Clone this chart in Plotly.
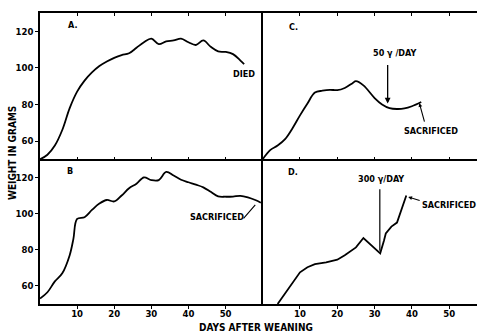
import plotly.graph_objects as go

# ---- data ----
a_days = [0, 2, 4, 6, 8, 10, 12, 14, 16, 18, 20, 22, 24, 26, 28, 30, 32, 34, 36, 38, 40, 42, 44, 46, 48, 50, 52, 54, 55]
a_wt = [50, 52.5, 57.5, 66, 78, 87, 93, 97.5, 101, 103.5, 105.5, 107, 108, 111, 114, 116, 113, 114.5, 115, 116, 114, 112.5, 115, 111.5, 109, 108.7, 107.5, 104, 102]

b_days = [0, 2, 4, 6, 8, 9, 10, 12, 14, 16, 18, 20, 22, 24, 26, 28, 30, 32, 34, 36, 38, 40, 42, 44, 46, 48, 50, 52, 54, 56, 58, 59.5]
b_wt = [53, 56.5, 62.5, 67, 77, 86, 97, 98, 102, 105.5, 107.5, 106.7, 110, 114, 116.5, 120, 118.5, 118.5, 123, 121, 118.7, 117.3, 116, 114.5, 112, 109.5, 109.3, 109.4, 109.8, 109, 107.5, 106]

c_days = [0, 2, 4, 6, 8, 10, 12, 14, 16, 18, 20, 22, 24, 25, 27, 30, 32, 34, 36, 38, 40, 42.5]
c_wt = [50, 55, 57.5, 61, 67, 74, 80.5, 86.5, 87.5, 88, 87.8, 89, 91.5, 92.7, 90.4, 83.5, 80, 78, 77.5, 77.8, 79, 81.3]

d_days = [4, 7, 10, 12, 14, 17, 20, 22, 25, 27, 29, 31.5, 32.5, 33, 34.5, 36, 38.5]
d_wt = [50, 59, 67.5, 70.3, 72, 73, 74.5, 77, 81.3, 86.5, 82.5, 78, 85, 89, 92.8, 95, 110]

x_ticks = [10, 20, 30, 40, 50]
y_ticks = [60, 80, 100, 120]
panel_labels = ["A.", "B", "C.", "D."]

FONT = "Liberation Sans Narrow, Arial Narrow, DejaVu Sans Condensed, Liberation Sans, sans-serif"
LINE = dict(color="black", width=1.8)

fig = go.Figure()
fig.add_trace(go.Scatter(x=a_days, y=a_wt, mode="lines", line=LINE, line_shape="spline", xaxis="x", yaxis="y"))
fig.add_trace(go.Scatter(x=c_days, y=c_wt, mode="lines", line=LINE, line_shape="spline", xaxis="x2", yaxis="y2"))
fig.add_trace(go.Scatter(x=b_days, y=b_wt, mode="lines", line=LINE, line_shape="spline", xaxis="x3", yaxis="y3"))
fig.add_trace(go.Scatter(x=d_days, y=d_wt, mode="lines", line=LINE, xaxis="x4", yaxis="y4"))

XL = 0.5096
YM = 0.4973
tickfont = dict(family=FONT, size=9.5, color="black", weight="bold")

top_x = dict(range=[0, 60], showline=True, linecolor="black", linewidth=1.5, mirror="ticks",
             ticks="inside", ticklen=3, tickcolor="black", tickvals=x_ticks, showticklabels=False,
             showgrid=False, zeroline=False)
bot_x = dict(range=[0, 60], showline=True, linecolor="black", linewidth=1.5,
             ticks="outside", ticklen=3, tickcolor="black", tickvals=x_ticks, tickfont=tickfont,
             ticklabelstandoff=-3,
             showgrid=False, zeroline=False, automargin=False)
left_y = dict(range=[50, 130], showline=True, linecolor="black", linewidth=1.5,
              ticks="outside", ticklen=3, tickcolor="black", tickvals=y_ticks,
              tickfont=tickfont, showgrid=False, zeroline=False, automargin=False)
right_y = dict(range=[50, 130], showline=True, linecolor="black", linewidth=1.5,
               ticks="", showticklabels=False, showgrid=False, zeroline=False)

right_range = [0, 57.45]

fig.update_layout(
    width=477, height=332,
    margin=dict(l=40, r=0, t=13, b=28, pad=0),
    paper_bgcolor="white", plot_bgcolor="white",
    showlegend=False,
    xaxis=dict(top_x, domain=[0, XL], anchor="y"),
    yaxis=dict(left_y, domain=[YM, 1], anchor="x"),
    xaxis2=dict(top_x, domain=[XL, 1], anchor="y2", range=right_range),
    yaxis2=dict(right_y, domain=[YM, 1], anchor="x2"),
    xaxis3=dict(bot_x, domain=[0, XL], anchor="y3"),
    yaxis3=dict(left_y, domain=[0, YM], anchor="x3"),
    xaxis4=dict(bot_x, domain=[XL, 1], anchor="y4", range=right_range),
    yaxis4=dict(right_y, domain=[0, YM], anchor="x4"),
)

tf = dict(family=FONT, size=9, color="black", weight="bold")
ann = []
# panel letters
for lab, xr, yr, xv, yv in [(panel_labels[0], "x", "y", 7, 123.5), (panel_labels[1], "x3", "y3", 6.7, 123.5),
                            (panel_labels[2], "x2", "y2", 6.5, 122.3), (panel_labels[3], "x4", "y4", 6.3, 122.8)]:
    ann.append(dict(text=lab, xref=xr, yref=yr, x=xv, y=yv, xanchor="left", yanchor="middle",
                    showarrow=False, font=tf))
# texts
ann.append(dict(text="DIED", xref="x", yref="y", x=55, y=96.6, showarrow=False, font=tf))
ann.append(dict(text="SACRIFICED", xref="x3", yref="y3", x=47.7, y=98.2, showarrow=False, font=tf))
ann.append(dict(text="50 γ /DAY", xref="x2", yref="y2", x=35.5, y=108, showarrow=False, font=tf))
ann.append(dict(text="SACRIFICED", xref="x2", yref="y2", x=45.1, y=65.3, showarrow=False, font=tf))
ann.append(dict(text="300 γ/DAY", xref="x4", yref="y4", x=31.7, y=119.1, showarrow=False, font=tf))
ann.append(dict(text="SACRIFICED", xref="x4", yref="y4", x=50, y=104.8, showarrow=False, font=tf))
# arrows / leaders
ann.append(dict(text="", xref="x2", yref="y2", x=33.5, y=80.5, ax=0, ay=-40, showarrow=True,
                arrowhead=2, arrowsize=0.9, arrowwidth=1.3, arrowcolor="black"))
ann.append(dict(text="", xref="x2", yref="y2", x=42.0, y=80.7, ax=5.5, ay=20, showarrow=True,
                arrowhead=2, arrowsize=0.7, arrowwidth=1.1, arrowcolor="black"))
ann.append(dict(text="", xref="x4", yref="y4", x=31.4, y=79.4, ax=0, ay=-63, showarrow=True,
                arrowhead=0, arrowwidth=1.2, arrowcolor="black"))
ann.append(dict(text="", xref="x4", yref="y4", x=39.0, y=109.2, ax=13, ay=4, showarrow=True,
                arrowhead=2, arrowsize=0.7, arrowwidth=1.1, arrowcolor="black"))
ann.append(dict(text="", xref="x3", yref="y3", x=58.0, y=104.8, ax=-13, ay=15, showarrow=True,
                arrowhead=0, arrowwidth=1.1, arrowcolor="black"))
# axis titles
ann.append(dict(text="DAYS AFTER WEANING", xref="paper", yref="paper", x=(256 - 40) / 437, y=(304 - 327) / 291,
                xanchor="center", yanchor="middle",
                showarrow=False, font=dict(family=FONT, size=10, color="black", weight="bold")))
ann.append(dict(text="WEIGHT IN GRAMS", xref="paper", yref="paper", x=(12 - 40) / 437, y=(304 - 153) / 291,
                xanchor="center", yanchor="middle",
                textangle=-90, showarrow=False, font=dict(family=FONT, size=10, color="black", weight="bold")))
fig.update_layout(annotations=ann)

fig.write_html("out.html", config={"displayModeBar": False},
               post_script="document.body.style.margin='0';document.body.style.overflow='hidden';")
